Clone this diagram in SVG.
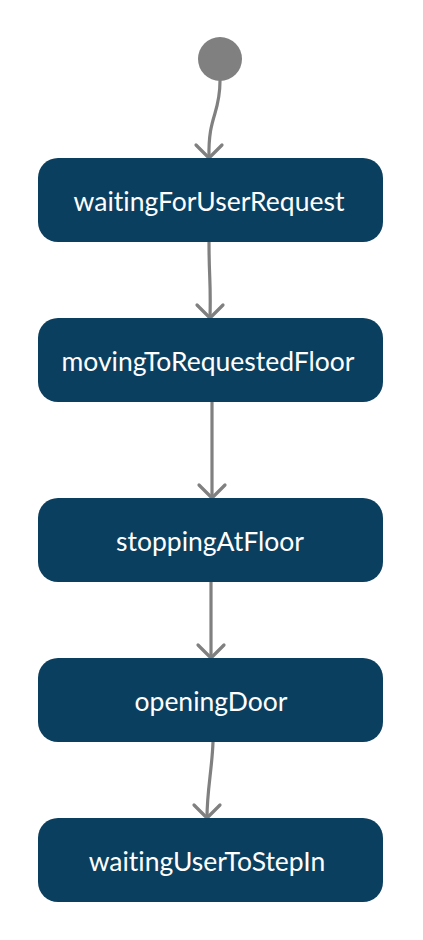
<svg xmlns="http://www.w3.org/2000/svg" width="423" height="940" viewBox="0 0 423 940">
<style>
.node rect{fill:#0b3f5f;}
.node text{fill:#ffffff;font-family:Lato,"Liberation Sans",sans-serif;font-size:26.5px;text-anchor:middle;dominant-baseline:central;font-variant-ligatures:none;}
.edge{fill:none;stroke:#808080;stroke-width:3.2;stroke-linecap:round;}
.head{fill:none;stroke:#808080;stroke-width:3.2;stroke-linecap:round;stroke-linejoin:round;}
</style>
<rect width="423" height="940" fill="#ffffff"/>
<g id="start"><circle cx="220" cy="59" r="22" fill="#808080"/></g>
<g id="connectors">
<path class="edge" d="M220,81 C220,115 208,115 209,158"/>
<path class="head" d="M196,145 L209,158 L222,145"/>
<path class="edge" d="M209,242 C209,280 211,280 210,318"/>
<path class="head" d="M197,305 L210,318 L223,305"/>
<path class="edge" d="M212,402 L212,498"/>
<path class="head" d="M199,485 L212,498 L225,485"/>
<path class="edge" d="M211,582 L211,658"/>
<path class="head" d="M198,645 L211,658 L224,645"/>
<path class="edge" d="M213,742 C212,770 207,790 207,818"/>
<path class="head" d="M194,805 L207,818 L220,805"/>
</g>
<g id="waitingForUserRequest" class="node"><rect x="38" y="158" width="345" height="84" rx="20"/><text x="209" y="201">waitingForUserRequest</text></g>
<g id="movingToRequestedFloor" class="node"><rect x="38" y="318" width="345" height="84" rx="20"/><text x="208" y="361">movingToRequestedFloor</text></g>
<g id="stoppingAtFloor" class="node"><rect x="38" y="498" width="345" height="84" rx="20"/><text x="210" y="541">stoppingAtFloor</text></g>
<g id="openingDoor" class="node"><rect x="38" y="658" width="345" height="84" rx="20"/><text x="211" y="701">openingDoor</text></g>
<g id="waitingUserToStepIn" class="node"><rect x="38" y="818" width="345" height="84" rx="20"/><text x="207" y="861">waitingUserToStepIn</text></g>
</svg>
